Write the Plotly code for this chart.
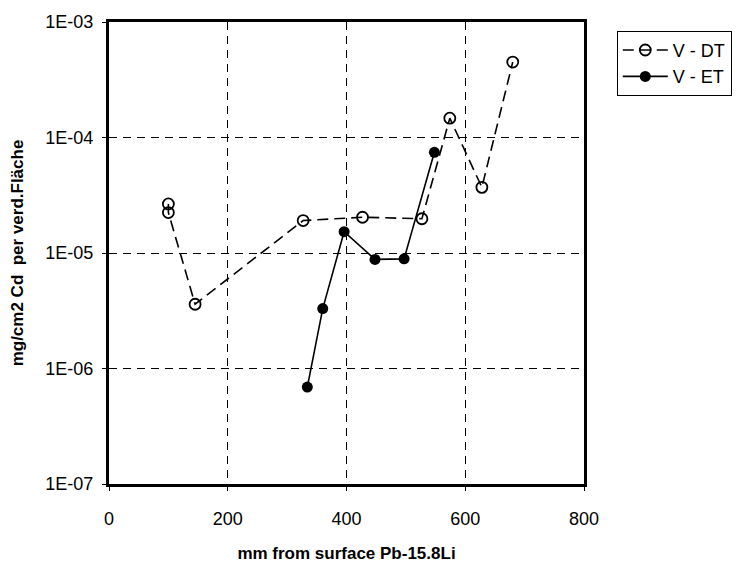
import plotly.graph_objects as go

# Data
dt_x = [100, 100, 145, 327, 427, 527, 574, 628, 680]
dt_y = [2.66e-5, 2.24e-5, 3.6e-6, 1.91e-5, 2.04e-5, 1.98e-5, 1.47e-4, 3.7e-5, 4.5e-4]
et_x = [334, 360, 396, 448, 497, 548]
et_y = [6.9e-7, 3.3e-6, 1.53e-5, 8.8e-6, 8.9e-6, 7.45e-5]

y_ticks = [1e-7, 1e-6, 1e-5, 1e-4, 1e-3]
y_labels = ["1E-07", "1E-06", "1E-05", "1E-04", "1E-03"]
x_ticks = [0, 200, 400, 600, 800]

FONT = "Liberation Sans, Arial, sans-serif"

fig = go.Figure()
fig.add_trace(go.Scatter(
    x=dt_x, y=dt_y, name="V - DT", mode="lines+markers",
    line=dict(color="black", width=1.6, dash="11px,6px"),
    marker=dict(symbol="circle-open", size=11, color="black", line=dict(width=1.8)),
))
fig.add_trace(go.Scatter(
    x=et_x, y=et_y, name="V - ET", mode="lines+markers",
    line=dict(color="black", width=1.6),
    marker=dict(symbol="circle", size=11, color="black"),
))

fig.update_layout(
    width=744, height=572,
    margin=dict(l=109, r=160, t=16, b=81),
    paper_bgcolor="white", plot_bgcolor="white",
    font=dict(family=FONT, color="black", size=18),
    showlegend=True,
    legend=dict(x=1.069, y=0.981, xanchor="left", yanchor="top",
                bordercolor="black", borderwidth=1, bgcolor="white",
                font=dict(size=18), itemwidth=45, tracegroupgap=0),
    xaxis=dict(
        range=[0, 800], tickvals=x_ticks, ticks="outside", ticklen=4,
        tickcolor="black", showline=True, linecolor="black", linewidth=3,
        mirror=True, showgrid=True, gridcolor="black", gridwidth=1,
        griddash="8px,6px", zeroline=False, tickfont=dict(size=18),
        ticklabelstandoff=12,
        title=dict(text="<b>mm from surface Pb-15.8Li</b>", font=dict(size=17), standoff=20),
    ),
    yaxis=dict(
        type="log", range=[-7, -3], tickvals=y_ticks, ticktext=y_labels,
        ticks="outside", ticklen=4, tickcolor="black",
        showline=True, linecolor="black", linewidth=3, mirror=True,
        showgrid=True, gridcolor="black", gridwidth=1, griddash="8px,6px",
        zeroline=False, tickfont=dict(size=18), ticklabelstandoff=5,
        title=dict(text="<b>mg/cm2 Cd  per verd.Fläche</b>", font=dict(size=17), standoff=18),
    ),
)

fig.write_html("out.html")
